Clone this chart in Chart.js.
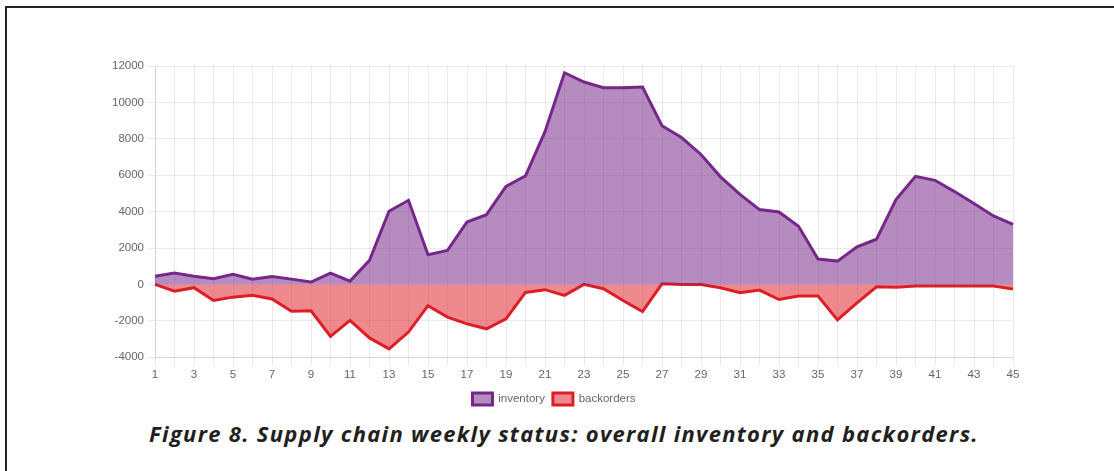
<!DOCTYPE html>
<html>
<head>
<meta charset="utf-8">
<script src="https://cdn.jsdelivr.net/npm/chart.js@4/dist/chart.umd.min.js"></script>
<style>
  html, body { margin: 0; padding: 0; background: #fff; }
  body { width: 1114px; height: 471px; position: relative; overflow: hidden; }
  #frame {
    position: absolute; left: 5px; top: 6px; width: 1120px; height: 480px;
    border-left: 2px solid #222; border-top: 2px solid #222;
  }
  #wrap { position: absolute; left: 0; top: 0; width: 1114px; height: 415px; }
  #caption {
    position: absolute; left: 7px; top: 418px; width: 1114px; text-align: center;
    font-family: "Open Sans", sans-serif; font-weight: 700; font-style: italic;
    font-size: 22px; color: #231f20; letter-spacing: 1.3px;
  }
</style>
</head>
<body>
<div id="frame"></div>
<div id="wrap"><canvas id="grafico"></canvas></div>
<div id="caption">Figure 8. Supply chain weekly status: overall inventory and backorders.</div>

<script>
// semanas 1..45
const semanas = [];
for (let i = 1; i <= 45; i++) semanas.push(String(i));

// estoque
const inventory = [
  450, 620, 450, 310, 550, 280, 440, 290, 130, 620,
  180, 1320, 4020, 4620, 1630, 1870, 3430, 3830, 5390, 5960,
  8390, 11630, 11120, 10810, 10810, 10840, 8720, 8070, 7140, 5910,
  4950, 4110, 3980, 3190, 1390, 1280, 2060, 2480, 4660, 5940,
  5720, 5100, 4440, 3760, 3300
];

// pedidos em atraso
const backorders = [
  0, -370, -180, -880, -700, -600, -800, -1470, -1450, -2860,
  -1980, -2940, -3540, -2620, -1170, -1800, -2170, -2440, -1890, -440,
  -290, -600, 0, -240, -880, -1490, 30, 0, 0, -180,
  -460, -310, -830, -640, -640, -1950, -1010, -130, -150, -90,
  -90, -90, -90, -90, -260
];

const yTicks = [-4000, -2000, 0, 2000, 4000, 6000, 8000, 10000, 12000];

const fonte = { family: '"Liberation Sans", Arial, sans-serif', size: 11.5 };

new Chart(document.getElementById('grafico').getContext('2d'), {
  type: 'line',
  data: {
    labels: semanas,
    datasets: [
      {
        label: 'inventory',
        data: inventory,
        borderColor: 'rgb(118,40,138)',
        backgroundColor: 'rgba(118,40,138,0.54)',
        borderWidth: 3,
        fill: 'origin',
        tension: 0,
        pointRadius: 0
      },
      {
        label: 'backorders',
        data: backorders,
        borderColor: 'rgb(222,30,38)',
        backgroundColor: 'rgba(222,30,38,0.52)',
        borderWidth: 3,
        fill: 'origin',
        tension: 0,
        pointRadius: 0
      }
    ]
  },
  options: {
    responsive: true,
    maintainAspectRatio: false,
    animation: false,
    layout: { padding: { left: 95, right: 101, top: 66, bottom: 0 } },
    plugins: {
      legend: {
        position: 'bottom',
        labels: { boxWidth: 20, boxHeight: 12, color: '#666', font: fonte, padding: 8 }
      },
      tooltip: { enabled: false }
    },
    scales: {
      x: {
        grid: { color: 'rgba(0,0,0,0.08)', tickLength: 8 },
        ticks: {
          color: '#666', font: fonte, autoSkip: false, maxRotation: 0,
          callback: function (v, i) { return i % 2 === 0 ? this.getLabelForValue(v) : ''; }
        }
      },
      y: {
        min: -4000, max: 12000,
        afterFit: (s) => { s.width = 60; },
        afterBuildTicks: (s) => { s.ticks = yTicks.map(v => ({ value: v })); },
        grid: { color: 'rgba(0,0,0,0.08)', tickLength: 8 },
        ticks: { color: '#666', font: fonte, callback: (v) => String(v) }
      }
    }
  }
});
</script>
</body>
</html>
